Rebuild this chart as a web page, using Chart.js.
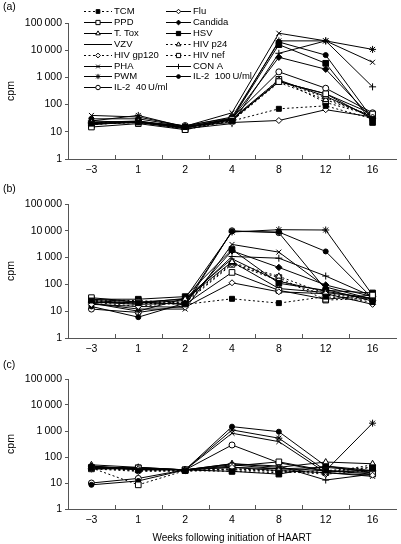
<!DOCTYPE html>
<html><head><meta charset="utf-8">
<script src="https://cdn.jsdelivr.net/npm/chart.js@4/dist/chart.umd.min.js"></script>
<style>
html,body{margin:0;padding:0;background:#fff;width:401px;height:544px;overflow:hidden;}
.panel{position:absolute;left:0;width:401px;}
.lab{position:absolute;left:3px;font:10.5px "Liberation Sans",Arial,sans-serif;color:#000;line-height:12px;}
</style></head><body>
<div class="panel" style="top:0;height:180px"><canvas id="ca" width="401" height="180"></canvas></div>
<div class="panel" style="top:180px;height:178px"><canvas id="cb" width="401" height="178"></canvas></div>
<div class="panel" style="top:358px;height:186px"><canvas id="cc" width="401" height="186"></canvas></div>
<div class="lab" style="top:0px">(a)</div>
<div class="lab" style="top:182px">(b)</div>
<div class="lab" style="top:358px">(c)</div>
<script>
// ---- DATA ----
const weeks = ['\u22123', '1', '2', '4', '8', '12', '16'];
const yTickValues = [1, 10, 100, 1000, 10000, 100000];
const seriesNames = ['TCM', 'Flu', 'PPD', 'Candida', 'T. Tox', 'HSV', 'VZV', 'HIV p24',
  'HIV gp120', 'HIV nef', 'PHA', 'CON A', 'PWM', 'IL-2  100\u2009U/ml', 'IL-2  40\u2009U/ml'];
// cpm values, one row per series (same order as seriesNames)
const valuesA = [
  [20, 22, 15, 25, 70, 90, 30],
  [22, 24, 16, 22, 26, 65, 35],
  [15, 20, 12, 28, 700, 250, 45],
  [22, 25, 15, 30, 5500, 2000, 30],
  [20, 24, 14, 30, 800, 200, 35],
  [18, 24, 14, 30, 16000, 3300, 22],
  [20, 22, 14, 28, 700, 250, 30],
  [22, 22, 14, 25, 650, 150, 40],
  [20, 22, 15, 25, 750, 180, 35],
  [18, 24, 12, 25, 850, 120, 40],
  [40, 35, 16, 50, 42000, 22000, 3600],
  [25, 22, 13, 20, 7700, 22000, 450],
  [25, 40, 15, 30, 22000, 22000, 10700],
  [30, 30, 16, 35, 20000, 6600, 30],
  [20, 22, 17, 32, 1600, 400, 50]
];
const valuesB = [
  [25, 20, 18, 29, 20, 35, 22],
  [18, 15, 14, 115, 53, 45, 18],
  [32, 22, 18, 280, 60, 28, 40],
  [22, 18, 20, 1800, 430, 95, 35],
  [28, 22, 28, 700, 70, 50, 30],
  [28, 28, 35, 2000, 110, 60, 48],
  [25, 20, 30, 900, 130, 55, 30],
  [24, 18, 25, 650, 200, 45, 28],
  [22, 15, 22, 600, 140, 40, 25],
  [26, 25, 20, 560, 180, 26, 30],
  [20, 12, 12, 3100, 1600, 80, 28],
  [22, 20, 25, 1100, 950, 205, 35],
  [20, 10, 30, 9000, 11000, 10700, 40],
  [15, 6, 20, 9500, 9000, 1700, 30],
  [12, 9, 16, 10000, 8500, 65, 24]
];
const valuesC = [
  [38, 30, 30, 28, 25, 30, 40],
  [35, 35, 32, 40, 30, 25, 20],
  [35, 38, 32, 45, 65, 30, 22],
  [45, 32, 32, 50, 35, 40, 28],
  [50, 40, 32, 55, 40, 64, 55],
  [40, 38, 32, 28, 22, 45, 30],
  [42, 35, 32, 40, 35, 30, 25],
  [40, 30, 28, 35, 30, 25, 50],
  [35, 28, 30, 32, 28, 22, 30],
  [38, 8.5, 30, 35, 30, 25, 40],
  [40, 33, 32, 820, 390, 25, 18],
  [45, 35, 32, 55, 45, 13, 22],
  [35, 40, 32, 1100, 530, 30, 2000],
  [8.5, 12, 32, 1470, 940, 45, 25],
  [10, 15, 32, 290, 60, 28, 30]
];
// ---- STYLES ----
const seriesStyles = [
  {shape:'rect', fill:true, dash:true, r:3.5},
  {shape:'rectRot', fill:false, dash:false, r:3},
  {shape:'rect', fill:false, dash:false, r:4},
  {shape:'rectRot', fill:true, dash:false, r:3.2},
  {shape:'triangle', fill:false, dash:false, r:3.5},
  {shape:'rect', fill:true, dash:false, r:4},
  {shape:'line', fill:false, dash:false, r:2.5},
  {shape:'triangle', fill:false, dash:true, r:3.5},
  {shape:'rectRot', fill:false, dash:true, r:3.2},
  {shape:'rect', fill:false, dash:true, r:4},
  {shape:'crossRot', fill:false, dash:false, r:3.5},
  {shape:'cross', fill:false, dash:false, r:3.5},
  {shape:'star', fill:false, dash:false, r:3.5},
  {shape:'circle', fill:true, dash:false, r:2.5},
  {shape:'circle', fill:false, dash:false, r:3}
];
const FONT = '"Liberation Sans", Arial, sans-serif';
const axisColor = '#555';

function fmt(v){ return String(v).replace(/\B(?=(\d{3})+(?!\d))/g, '\u2009'); }

function makeDatasets(values){
  return values.map((vals, i) => {
    const s = seriesStyles[i];
    return {
      label: seriesNames[i], data: vals,
      borderColor:'#000', borderWidth:1, borderDash: s.dash ? [2,2.5] : [],
      pointStyle: s.shape, pointRadius: s.r, pointHoverRadius: s.r,
      pointBorderColor:'#000', pointBorderWidth:1,
      pointBackgroundColor: s.fill ? '#000' : '#fff',
      tension:0, fill:false, clip:false
    };
  });
}

const xTickPlugin = {
  id:'xTickMarks',
  afterDraw(chart){
    const xs = chart.scales.x, ctx = chart.ctx, b = chart.chartArea.bottom;
    ctx.save(); ctx.strokeStyle = axisColor; ctx.lineWidth = 1; ctx.beginPath();
    for (let i = 1; i < weeks.length; i++){
      const px = Math.round((xs.getPixelForValue(i-1) + xs.getPixelForValue(i))/2) + 0.5;
      ctx.moveTo(px, b); ctx.lineTo(px, b - 4);
    }
    ctx.stroke(); ctx.restore();
  }
};

function drawMarker(ctx, s, x, y){
  ctx.save();
  ctx.fillStyle = s.fill ? '#000' : '#fff'; ctx.strokeStyle = '#000'; ctx.lineWidth = 1;
  ctx.setLineDash([]);
  if (Chart.helpers && Chart.helpers.drawPoint){
    Chart.helpers.drawPoint(ctx, {pointStyle:s.shape, radius:s.r * 0.75, rotation:0, borderWidth:1}, x, y);
  }
  ctx.restore();
}

const legendPlugin = {
  id:'inlineLegend',
  afterDraw(chart){
    const ctx = chart.ctx;
    ctx.save();
    ctx.font = '9.5px ' + FONT; ctx.textBaseline = 'middle'; ctx.fillStyle = '#000';
    seriesNames.forEach((name, i) => {
      const s = seriesStyles[i];
      const col = i % 2, row = Math.floor(i / 2);
      const x0 = col ? 166 : 84, len = col ? 25 : 28;
      const y = Math.round(11 + row * 10.9) + 0.5;
      ctx.strokeStyle = '#000'; ctx.lineWidth = 1;
      ctx.setLineDash(s.dash ? [2,2.5] : []);
      ctx.beginPath(); ctx.moveTo(x0, y); ctx.lineTo(x0 + len, y); ctx.stroke();
      drawMarker(ctx, s, x0 + len/2, y);
      ctx.fillStyle = '#000';
      ctx.fillText(name, x0 + len + 2, y);
    });
    ctx.restore();
  }
};

function makeChart(id, values, padTop, xHeight, showTitle, withLegend){
  const plugins = [xTickPlugin];
  if (withLegend) plugins.push(legendPlugin);
  return new Chart(document.getElementById(id), {
    type:'line',
    data:{ labels: weeks, datasets: makeDatasets(values) },
    plugins,
    options:{
      responsive:false, animation:false, devicePixelRatio:1,
      layout:{ padding:{ top:padTop, right:4, left:0, bottom:0 } },
      plugins:{ legend:{display:false}, tooltip:{enabled:false} },
      scales:{
        x:{
          type:'category', offset:true,
          grid:{ display:false, drawTicks:false },
          border:{ display:true, color:axisColor, width:1 },
          ticks:{ color:'#000', font:{family:FONT, size:10.5}, padding:5, maxRotation:0, autoSkip:false },
          title:{ display:showTitle, text:'Weeks following initiation of HAART', color:'#000',
                  font:{family:FONT, size:10}, padding:{top:0, bottom:0} },
          afterFit(scale){ scale.height = xHeight; }
        },
        y:{
          type:'logarithmic', min:1, max:100000,
          afterBuildTicks(scale){ scale.ticks = yTickValues.map(v => ({value:v})); },
          grid:{ drawOnChartArea:false, drawTicks:true, tickLength:3, color:axisColor },
          border:{ display:true, color:axisColor, width:1 },
          ticks:{ color:'#000', font:{family:FONT, size:10.5}, padding:3, callback:(v) => fmt(v) },
          title:{ display:true, text:'cpm', color:'#000', font:{family:FONT, size:10.5}, padding:{top:5, bottom:0} },
          afterFit(scale){ scale.width = 68; }
        }
      }
    }
  });
}

makeChart('ca', valuesA, 23, 21, false, true);
makeChart('cb', valuesB, 24, 20, false, false);
makeChart('cc', valuesC, 21, 35, true, false);
</script>
</body></html>
